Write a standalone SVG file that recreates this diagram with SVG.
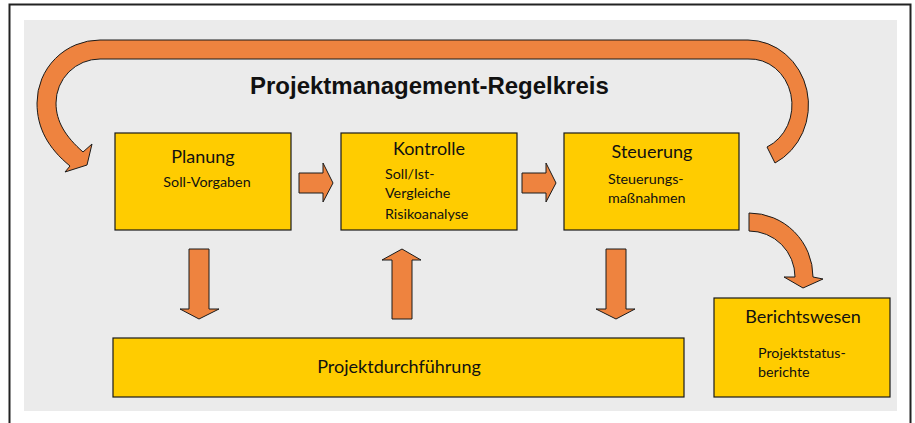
<svg xmlns="http://www.w3.org/2000/svg" width="915" height="423" viewBox="0 0 915 423">
<style>
.box{fill:#FFCC00;stroke:#1a1a1a;stroke-width:1.2}
.arr{fill:#EE833F;stroke:#1a1a1a;stroke-width:1;stroke-linejoin:miter}
.h{font-family:Lato,"Open Sans",sans-serif;font-size:18px;fill:#111;text-anchor:middle}
.s{font-family:Lato,"Open Sans",sans-serif;font-size:14.3px;fill:#111}
.title{font-family:"Liberation Sans",Arial,sans-serif;font-weight:bold;font-size:24px;fill:#111}
</style>
<rect x="0" y="0" width="915" height="423" fill="#ffffff"/>
<rect x="9.5" y="4.5" width="901" height="440" fill="#ffffff" stroke="#222" stroke-width="2"/>
<rect x="24" y="20" width="873" height="391" fill="#EBEBEB"/>
<text class="title" x="250" y="94">Projektmanagement-Regelkreis</text>
<g id="connectors">
<path class="arr" d="M92,144 L83,152 C66,137 56,122 56,103 A44,44 0 0 1 100,59 L748,59 A42,46 0 0 1 767,147 L775,163 A61,65 0 0 0 748,40 L100,40 A63,63 0 0 0 37,103 C37,128 48,148 70,166 L65,172 L87,165 Z"/>
<path class="arr" d="M749,213 A64,64 0 0 1 813,277 L823,279 L803,288 L784,277 L795,277 A46,46 0 0 0 749,231 Z"/>
<path class="arr" d="M299,173 L323,173 L323,163 L333,183 L323,202 L323,193 L299,193 Z"/>
<path class="arr" d="M522,173 L546,173 L546,163 L556,183 L546,202 L546,193 L522,193 Z"/>
<path class="arr" d="M189,249 L209,249 L209,309 L219,309 L199,319 L180,309 L189,309 Z"/>
<path class="arr" d="M392,319 L412,319 L412,260 L421,260 L402,249 L382,260 L392,260 Z"/>
<path class="arr" d="M606,249 L626,249 L626,309 L635,309 L616,319 L596,309 L606,309 Z"/>
</g>
<g id="planung">
<rect class="box" x="115" y="133" width="176" height="97"/>
<text class="h" x="203" y="163">Planung</text>
<text class="s" x="207" y="187" text-anchor="middle">Soll-Vorgaben</text>
</g>
<g id="kontrolle">
<rect class="box" x="341" y="133" width="176" height="97"/>
<text class="h" x="429" y="155">Kontrolle</text>
<text class="s" x="385" y="179">Soll/Ist-</text>
<text class="s" x="385" y="198">Vergleiche</text>
<text class="s" x="385" y="219">Risikoanalyse</text>
</g>
<g id="steuerung">
<rect class="box" x="564" y="133" width="175" height="97"/>
<text class="h" x="652" y="158">Steuerung</text>
<text class="s" x="608" y="184">Steuerungs-</text>
<text class="s" x="608" y="203">maßnahmen</text>
</g>
<g id="projektdurchfuehrung">
<rect class="box" x="113" y="338" width="571" height="59"/>
<text class="h" x="399" y="373">Projektdurchführung</text>
</g>
<g id="berichtswesen">
<rect class="box" x="714" y="298" width="176" height="99"/>
<text class="h" x="803" y="323">Berichtswesen</text>
<text class="s" x="758" y="358">Projektstatus-</text>
<text class="s" x="758" y="377">berichte</text>
</g>
</svg>
